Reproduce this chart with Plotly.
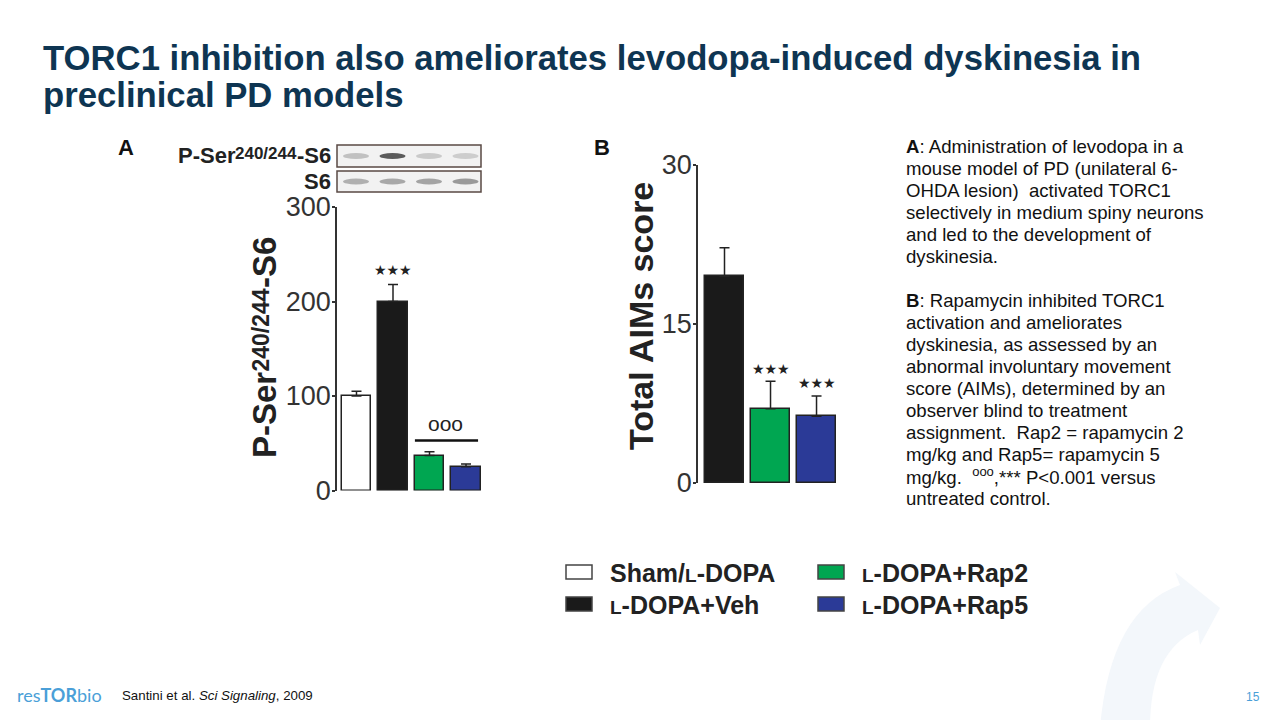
import plotly.graph_objects as go

# ---------------- data ----------------
groups = ["Sham/L-DOPA", "L-DOPA+Veh", "L-DOPA+Rap2", "L-DOPA+Rap5"]
colors = ["#FFFFFF", "#1A1A1A", "#00A651", "#2B3A97"]

ps6_mean = [100, 200, 37, 25]
ps6_sem = [5, 18, 4, 3]
ps6_ticks = [0, 100, 200, 300]

aims_groups = groups[1:]
aims_colors = colors[1:]
aims_mean = [19.5, 7.0, 6.3]
aims_sem = [2.7, 2.6, 1.9]
aims_ticks = [0, 15, 30]

# blot band intensities (0=white, 1=black) per lane
blot_pser = [0.25, 0.85, 0.2, 0.18]
blot_s6 = [0.35, 0.4, 0.42, 0.48]

title_lines = ["TORC1 inhibition also ameliorates levodopa-induced dyskinesia in",
               "preclinical PD models"]
desc_lines = ["<b>A</b>: Administration of levodopa in a",
              "mouse model of PD (unilateral 6-",
              "OHDA lesion)  activated TORC1",
              "selectively in medium spiny neurons",
              "and led to the development of",
              "dyskinesia.",
              "",
              "<b>B</b>: Rapamycin inhibited TORC1",
              "activation and ameliorates",
              "dyskinesia, as assessed by an",
              "abnormal involuntary movement",
              "score (AIMs), determined by an",
              "observer blind to treatment",
              "assignment.  Rap2 = rapamycin 2",
              "mg/kg and Rap5= rapamycin 5",
              "mg/kg.  <sup>ooo</sup>,*** P&lt;0.001 versus",
              "untreated control."]

W, H = 1280, 720
OFF = 8  # page body margin in the browser


def px(x):
    return (x - OFF) / W


def py(y):
    return 1 - (y - OFF) / H


FONT = "Arial, Liberation Sans, sans-serif"
AX = "#333333"

fig = go.Figure()

# Panel A bars
fig.add_trace(go.Bar(
    x=groups, y=ps6_mean, xaxis="x", yaxis="y",
    marker=dict(color=colors, line=dict(color="#222222", width=1.5)),
    width=0.8,
    error_y=dict(type="data", array=ps6_sem, arrayminus=[0] * 4, symmetric=False,
                 color="#222222", thickness=1.5, width=5),
    showlegend=False, hoverinfo="skip"))

# Panel B bars
fig.add_trace(go.Bar(
    x=aims_groups, y=aims_mean, xaxis="x2", yaxis="y2",
    marker=dict(color=aims_colors, line=dict(color="#222222", width=1.5)),
    width=0.85,
    error_y=dict(type="data", array=aims_sem, arrayminus=[0] * 3, symmetric=False,
                 color="#222222", thickness=1.5, width=5),
    showlegend=False, hoverinfo="skip"))

axis_common = dict(showgrid=False, zeroline=False, showline=True, linecolor=AX, linewidth=1.5,
                   ticks="outside", ticklen=3, tickcolor=AX, tickwidth=1.5, automargin=False,
                   ticklabelstandoff=-4)
xhide = dict(showticklabels=False, showline=False, showgrid=False, zeroline=False, ticks="",
             automargin=False)

fig.update_layout(
    width=W, height=H, autosize=False,
    margin=dict(l=0, r=0, t=0, b=0, pad=0),
    paper_bgcolor="white", plot_bgcolor="rgba(0,0,0,0)",
    bargap=0,
    xaxis=dict(domain=[px(337), px(485)], range=[-0.534, 3.52],
               categoryorder="array", categoryarray=groups, anchor="y", **xhide),
    yaxis=dict(domain=[py(490.5), py(207)], range=[0, 300], tickvals=ps6_ticks, anchor="x",
               tickfont=dict(family=FONT, size=27, color=AX), **axis_common),
    xaxis2=dict(domain=[px(698), px(840)], range=[-0.576, 2.51],
                categoryorder="array", categoryarray=aims_groups, anchor="y2", **xhide),
    yaxis2=dict(domain=[py(483), py(165)], range=[0, 30], tickvals=aims_ticks, anchor="x2",
                tickfont=dict(family=FONT, size=27, color=AX), **axis_common),
)

ann = []
shapes = []


def text(x, y, t, size, color="#222", family=FONT, xa="center", ya="middle", angle=0):
    ann.append(dict(x=px(x), y=py(y), xref="paper", yref="paper", xanchor=xa, yanchor=ya,
                    align="left", showarrow=False, text=t, textangle=angle,
                    font=dict(family=family, size=size, color=color)))


# Title
for i, line in enumerate(title_lines):
    text(41, 58 + 37 * i, "<b>" + line + "</b>", 34.7, color="#0E3552", xa="left")

# panel letters
text(126, 147, "<b>A</b>", 22, color="#111")
text(602, 147, "<b>B</b>", 22, color="#111")

# y-axis title A, split so the raised digits sit like the original
text(264, 415, "<b>P-Ser</b>", 33, angle=-90)
text(260.5, 330, "<b>240/244</b>", 23, angle=-90)
text(264, 263, "<b>-S6</b>", 33, angle=-90)
# y-axis title B
text(641, 316, "<b>Total AIMs score</b>", 34, angle=-90)

# significance markers
ann.append(dict(x=groups[1], y=ps6_mean[1] + ps6_sem[1] + 5, xref="x", yref="y", showarrow=False,
                xanchor="center", yanchor="bottom", text="★★★",
                font=dict(family="DejaVu Sans", size=14, color="#222")))
ann.append(dict(x=2.45, y=57, xref="x", yref="y", showarrow=False, xanchor="center",
                yanchor="bottom", text="ooo", font=dict(family=FONT, size=21, color="#222")))
shapes.append(dict(type="line", xref="x", yref="y", x0=1.6, x1=3.33, y0=53, y1=53,
                   line=dict(color="#111", width=2.5)))
for g, m, s in zip(aims_groups[1:], aims_mean[1:], aims_sem[1:]):
    ann.append(dict(x=g, y=m + s + 1.2, xref="x2", yref="y2", showarrow=False, xanchor="center",
                    yanchor="middle", text="★★★",
                    font=dict(family="DejaVu Sans", size=14, color="#222")))

# western blot panel labels
text(333, 156, "<b>-S6</b>", 22, xa="right")
text(299, 154, "<b>240/244</b>", 17, xa="right")
text(237.5, 156, "<b>P-Ser</b>", 22, xa="right")
text(333, 181, "<b>S6</b>", 22, xa="right")
for (y0, y1, vals) in [(145, 167, blot_pser), (171, 192, blot_s6)]:
    shapes.append(dict(type="rect", xref="paper", yref="paper", x0=px(337), x1=px(481),
                       y0=py(y1), y1=py(y0), fillcolor="#F2F2F2",
                       line=dict(color="#5a4a44", width=1.5)))
    for i, v in enumerate(vals):
        cx = 356 + i * 36.5
        g = int(235 - v * 200)
        cy = (y0 + y1) / 2
        shapes.append(dict(type="circle", xref="paper", yref="paper",
                           x0=px(cx - 13), x1=px(cx + 13), y0=py(cy + 3), y1=py(cy - 3),
                           fillcolor=f"rgb({g},{g},{g})", line=dict(width=0), opacity=0.85))

# description text
for i, line in enumerate(desc_lines):
    if line:
        text(904, 146 + 22 * i, line, 18.6, color="#111", xa="left")


# legend (figure key)
def lab(s):
    return s.replace("L-", "<span style='font-size:19px'>L</span>-")


leg_pos = [(566, 572, 608), (566, 604, 608), (818, 572, 860), (818, 604, 860)]
for gname, col, (sx, sy, tx) in zip(groups, colors, leg_pos):
    shapes.append(dict(type="rect", xref="paper", yref="paper", x0=px(sx), x1=px(sx + 26),
                       y0=py(sy + 7), y1=py(sy - 7), fillcolor=col,
                       line=dict(color="#444", width=1.5)))
    text(tx, sy + 1, "<b>" + lab(gname) + "</b>", 25, xa="left")

# background arrow decoration (faint)
shapes.append(dict(type="path", xref="paper", yref="paper", layer="below",
                   path=f"M {px(1100)},{py(728)} Q {px(1110)},{py(610)} {px(1180)},{py(585)} "
                        f"L {px(1175)},{py(572)} L {px(1220)},{py(608)} L {px(1200)},{py(645)} "
                        f"L {px(1198)},{py(630)} Q {px(1150)},{py(650)} {px(1150)},{py(728)} Z",
                   fillcolor="#F3F7FB", line=dict(width=0)))

# footer
text(15, 695, "res<b>TOR</b>bio", 18, color="#4A9FD8", family="Lato, Arial", xa="left")
text(120, 695, "Santini et al. <i>Sci Signaling</i>, 2009", 13.3, color="#111", xa="left")
text(1253, 697, "15", 12, color="#4A9FD8")

fig.update_layout(annotations=ann, shapes=shapes)
fig.write_html("out.html")
